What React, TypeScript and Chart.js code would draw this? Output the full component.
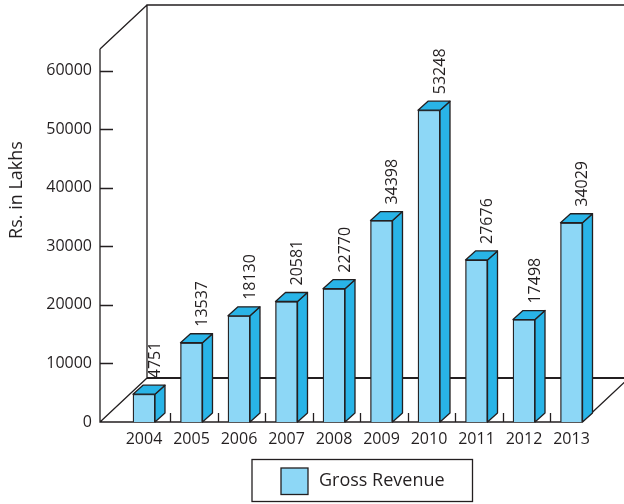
import React, { useEffect, useRef } from "react";
import { Chart, registerables } from "chart.js";

Chart.register(...registerables);

const years = ["2004", "2005", "2006", "2007", "2008", "2009", "2010", "2011", "2012", "2013"];
const grossRevenue = [4751, 13537, 18130, 20581, 22770, 34398, 53248, 27676, 17498, 34029];
const yTickValues = [0, 10000, 20000, 30000, 40000, 50000, 60000];
const seriesLabel = "Gross Revenue";
const yTitle = "Rs. in Lakhs";

const FRONT = "#8dd7f6";
const SIDE = "#29b4e7";
const INK = "#231f20";
const FONT = "'Open Sans', 'Noto Sans', sans-serif";

const DEPTH_X = 47;
const DEPTH_Y = -44;
const BAR_DX = 10;
const BAR_DY = -9;

const framePlugin = {
  id: "frame3d",
  beforeDatasetsDraw(chart: any) {
    const ctx = chart.ctx;
    const xs = chart.scales.x;
    const ys = chart.scales.y;
    const L = xs.getPixelForValue(xs.min);
    const R = xs.getPixelForValue(xs.max);
    const T = ys.getPixelForValue(ys.max);
    const B = ys.getPixelForValue(0);
    ctx.save();
    ctx.strokeStyle = INK;
    ctx.lineWidth = 1.3;
    ctx.beginPath();
    ctx.moveTo(L, T);
    ctx.lineTo(L, B);
    ctx.lineTo(R, B);
    ctx.moveTo(L, T);
    ctx.lineTo(L + DEPTH_X, T + DEPTH_Y);
    ctx.moveTo(L, B);
    ctx.lineTo(L + DEPTH_X, B + DEPTH_Y);
    ctx.moveTo(R, B);
    ctx.lineTo(R + DEPTH_X, B + DEPTH_Y);
    ctx.moveTo(L + DEPTH_X, B + DEPTH_Y);
    ctx.lineTo(L + DEPTH_X, T + DEPTH_Y);
    ctx.lineTo(R + DEPTH_X, T + DEPTH_Y);
    ctx.stroke();
    ctx.lineWidth = 2.2;
    ctx.beginPath();
    ctx.moveTo(L + DEPTH_X, B + DEPTH_Y);
    ctx.lineTo(R + DEPTH_X, B + DEPTH_Y);
    ctx.stroke();
    ctx.lineWidth = 1.3;
    ctx.beginPath();
    yTickValues.forEach((v) => {
      if (v === 0) return;
      const py = Math.round(ys.getPixelForValue(v)) + 0.5;
      ctx.moveTo(L, py);
      ctx.lineTo(L + 13, py);
    });
    for (let i = 0; i < years.length - 1; i++) {
      const px = Math.round(xs.getPixelForValue(i + 0.55)) + 0.5;
      ctx.moveTo(px, B);
      ctx.lineTo(px, B - 9);
    }
    ctx.stroke();
    ctx.restore();
  },
  afterDatasetsDraw(chart: any) {
    const ctx = chart.ctx;
    const meta = chart.getDatasetMeta(0);
    ctx.save();
    ctx.strokeStyle = INK;
    ctx.lineWidth = 1.3;
    ctx.lineJoin = "round";
    meta.data.forEach((bar: any, i: number) => {
      const { x, y, base, width } = bar.getProps(["x", "y", "base", "width"], true);
      const l = x - width / 2;
      const r = x + width / 2;
      ctx.fillStyle = SIDE;
      ctx.beginPath();
      ctx.moveTo(r, y);
      ctx.lineTo(r + BAR_DX, y + BAR_DY);
      ctx.lineTo(r + BAR_DX, base + BAR_DY);
      ctx.lineTo(r, base);
      ctx.closePath();
      ctx.fill();
      ctx.stroke();
      ctx.beginPath();
      ctx.moveTo(l, y);
      ctx.lineTo(l + BAR_DX, y + BAR_DY);
      ctx.lineTo(r + BAR_DX, y + BAR_DY);
      ctx.lineTo(r, y);
      ctx.closePath();
      ctx.fill();
      ctx.stroke();
      ctx.save();
      ctx.fillStyle = INK;
      ctx.font = `16px ${FONT}`;
      ctx.translate(r, y - 16);
      ctx.rotate(-Math.PI / 2);
      ctx.textAlign = "left";
      ctx.textBaseline = "middle";
      ctx.fillText(String(grossRevenue[i]), 0, 0);
      ctx.restore();
    });
    ctx.restore();
  },
  afterDraw(chart: any) {
    const ctx = chart.ctx;
    ctx.save();
    ctx.fillStyle = INK;
    ctx.font = `18px ${FONT}`;
    ctx.translate(17, 190);
    ctx.rotate(-Math.PI / 2);
    ctx.textAlign = "center";
    ctx.textBaseline = "middle";
    ctx.fillText(yTitle, 0, 0);
    ctx.restore();
    ctx.save();
    ctx.strokeStyle = INK;
    ctx.lineWidth = 1.3;
    ctx.strokeRect(252, 459.5, 220.5, 42);
    ctx.fillStyle = FRONT;
    ctx.fillRect(281, 468, 27, 26.5);
    ctx.strokeRect(281, 468, 27, 26.5);
    ctx.fillStyle = INK;
    ctx.font = `18px ${FONT}`;
    ctx.textAlign = "left";
    ctx.textBaseline = "middle";
    ctx.fillText(chart.data.datasets[0].label, 319, 480.5);
    ctx.restore();
  },
};

export default function App() {
  const ref = useRef<HTMLCanvasElement | null>(null);
  useEffect(() => {
    if (!ref.current) return;
    const chart = new Chart(ref.current, {
      type: "bar",
      data: {
        datasets: [
          {
            label: seriesLabel,
            data: grossRevenue.map((v, i) => ({ x: i, y: v })),
            backgroundColor: FRONT,
            borderColor: INK,
            borderWidth: 1.3,
            barThickness: 22,
          },
        ],
      },
      options: {
        animation: false,
        responsive: false,
        layout: { padding: { left: 0, top: 49, right: 42, bottom: 0 } },
        plugins: { legend: { display: false }, tooltip: { enabled: false } },
        scales: {
          x: {
            type: "linear",
            offset: false,
            min: -0.926,
            max: 9.221,
            grid: { display: false, drawTicks: false, offset: false },
            border: { display: false },
            afterFit: (s: any) => {
              s.height = 82;
              s.paddingLeft = 0;
              s.paddingRight = 0;
            },
            afterBuildTicks: (s: any) => {
              s.ticks = years.map((_, i) => ({ value: i }));
            },
            ticks: {
              autoSkip: false,
              maxRotation: 0,
              padding: 8,
              color: INK,
              font: { family: FONT, size: 16 },
              callback: (v: any) => years[v as number] ?? "",
            },
          },
          y: {
            min: 0,
            max: 63700,
            grid: { display: false, drawTicks: false },
            border: { display: false },
            afterFit: (s: any) => {
              s.width = 100;
              s.paddingTop = 0;
              s.paddingBottom = 0;
            },
            afterBuildTicks: (s: any) => {
              s.ticks = yTickValues.map((v) => ({ value: v }));
            },
            ticks: {
              padding: 8,
              color: INK,
              font: { family: FONT, size: 16 },
              callback: (v: any) => String(v),
            },
          },
        },
      },
      plugins: [framePlugin],
    });
    return () => chart.destroy();
  }, []);
  return (
    <div style={{ position: "absolute", left: 0, top: 0, width: 624, height: 504 }}>
      <canvas ref={ref} width={624} height={504} style={{ width: 624, height: 504 }} />
    </div>
  );
}
